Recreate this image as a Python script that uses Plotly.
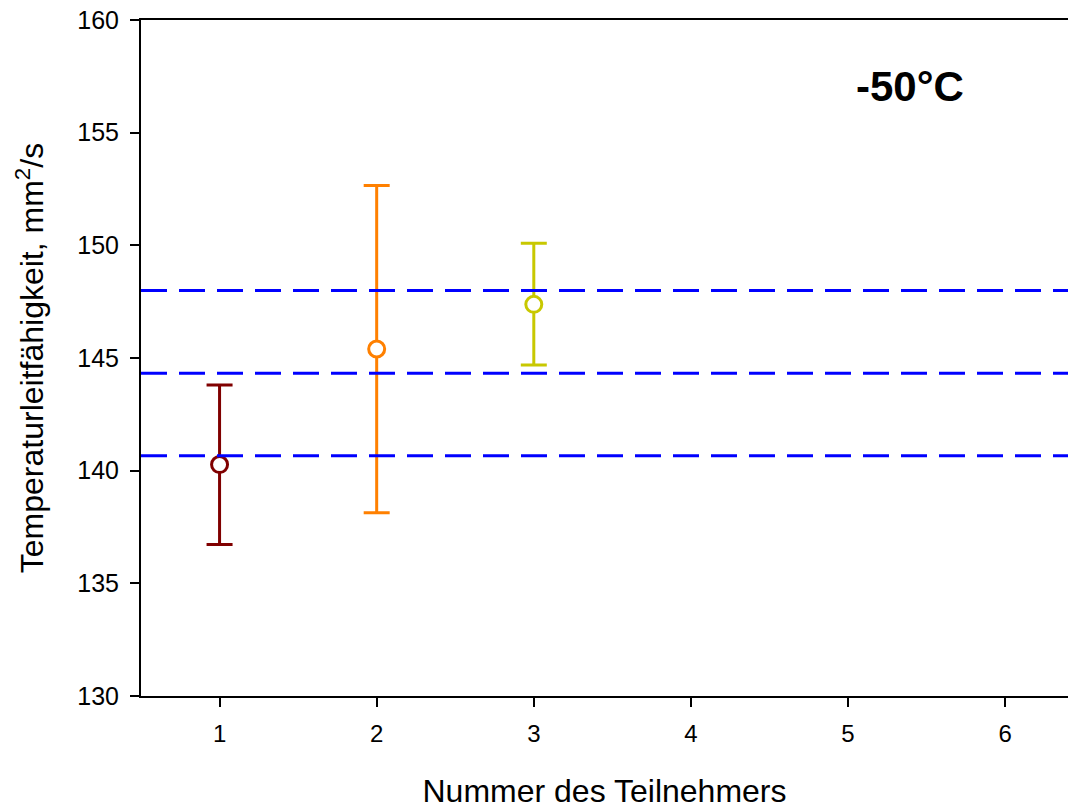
import plotly.graph_objects as go

participants = [1, 2, 3]
values = [140.27, 145.4, 147.38]
err_plus = [3.53, 7.25, 2.71]
err_minus = [3.55, 7.27, 2.69]
colors = ["#800000", "#FF8000", "#C8C800"]
ref_lines = [148.0, 144.32, 140.66]
x_ticks = [1, 2, 3, 4, 5, 6]
y_ticks = [130, 135, 140, 145, 150, 155, 160]

FONT = "Liberation Sans, Arial, sans-serif"

fig = go.Figure()
for x, v, ep, em, c in zip(participants, values, err_plus, err_minus, colors):
    fig.add_trace(go.Scatter(
        x=[x], y=[v], mode="markers",
        marker=dict(symbol="circle", size=16, color="white",
                    line=dict(color=c, width=3)),
        error_y=dict(type="data", symmetric=False, array=[ep], arrayminus=[em],
                     color=c, thickness=3, width=13),
        showlegend=False,
    ))

for yv in ref_lines:
    fig.add_shape(type="line", xref="paper", x0=0, x1=1, yref="y", y0=yv, y1=yv,
                  line=dict(color="#0000FF", width=3, dash="26px,12px"))

fig.add_annotation(x=(910 - 141) / (1068 - 141), xref="paper", xanchor="center",
                   y=157.05, yref="y", yanchor="middle",
                   text="<b>-50°C</b>", showarrow=False,
                   font=dict(size=42, color="black", family=FONT))

fig.update_layout(
    width=1068, height=809,
    margin=dict(l=141, r=0, t=20, b=111),
    plot_bgcolor="white", paper_bgcolor="white",
    font=dict(family=FONT, color="black", size=24),
    xaxis=dict(range=[0.5, 6.4], tickvals=x_ticks, ticks="outside", ticklen=9,
               tickwidth=2, tickcolor="black", showline=True, linecolor="black",
               linewidth=2, mirror=True, showgrid=False, zeroline=False,
               tickfont=dict(size=24, family=FONT), ticklabelstandoff=6,
               title=dict(text="Nummer des Teilnehmers", font=dict(size=32, family=FONT),
                          standoff=40)),
    yaxis=dict(range=[130, 160], tickvals=y_ticks, ticks="outside", ticklen=9,
               tickwidth=2, tickcolor="black", showline=True, linecolor="black",
               linewidth=2, showgrid=False, zeroline=False,
               tickfont=dict(size=25, family=FONT), ticklabelstandoff=6,
               ticklabeloverflow="allow",
               title=dict(text="Temperaturleitfähigkeit, mm<sup>2</sup>/s",
                          font=dict(size=32, family=FONT), standoff=24)),
)

fig.write_html(
    "out.html",
    config={"displayModeBar": False},
    post_script="document.body.style.margin='0';document.body.style.overflow='hidden';",
)
